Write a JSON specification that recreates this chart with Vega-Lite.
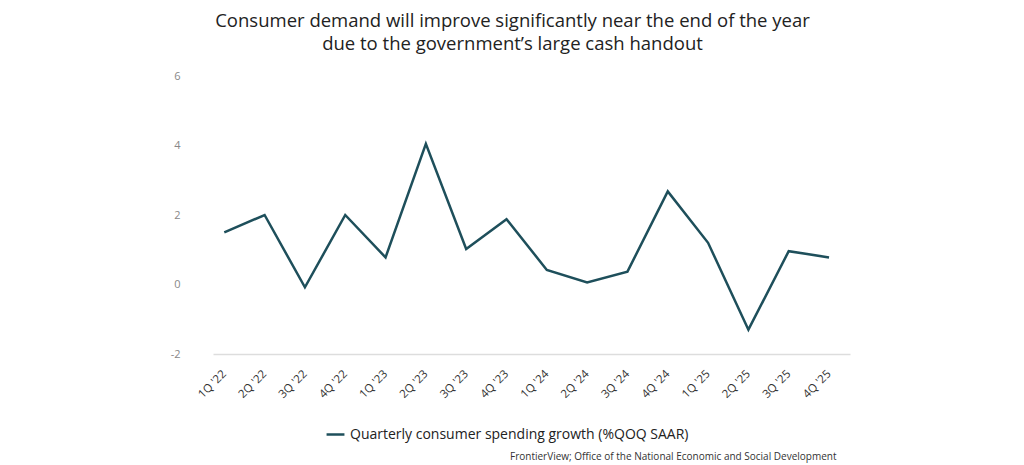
{
  "$schema": "https://vega.github.io/schema/vega-lite/v6.json",
  "autosize": {"type": "none"},
  "width": 637,
  "height": 278,
  "padding": {"left": 213, "top": 76, "right": 174, "bottom": 111},
  "background": "white",
  "config": {"view": {"stroke": null}, "font": "Open Sans"},
  "title": {
    "text": ["Consumer demand will improve significantly near the end of the year", "due to the government’s large cash handout"],
    "fontSize": 18.5,
    "fontWeight": "normal",
    "color": "#222",
    "anchor": "middle",
    "dx": -19,
    "offset": 17,
    "lineHeight": 23
  },
  "data": {
    "values": [
      {"q": "1Q '22", "series": "Quarterly consumer spending growth (%QOQ SAAR)", "v": 1.50},
      {"q": "2Q '22", "series": "Quarterly consumer spending growth (%QOQ SAAR)", "v": 2.00},
      {"q": "3Q '22", "series": "Quarterly consumer spending growth (%QOQ SAAR)", "v": -0.08},
      {"q": "4Q '22", "series": "Quarterly consumer spending growth (%QOQ SAAR)", "v": 2.00},
      {"q": "1Q '23", "series": "Quarterly consumer spending growth (%QOQ SAAR)", "v": 0.78},
      {"q": "2Q '23", "series": "Quarterly consumer spending growth (%QOQ SAAR)", "v": 4.05},
      {"q": "3Q '23", "series": "Quarterly consumer spending growth (%QOQ SAAR)", "v": 1.02},
      {"q": "4Q '23", "series": "Quarterly consumer spending growth (%QOQ SAAR)", "v": 1.88},
      {"q": "1Q '24", "series": "Quarterly consumer spending growth (%QOQ SAAR)", "v": 0.42},
      {"q": "2Q '24", "series": "Quarterly consumer spending growth (%QOQ SAAR)", "v": 0.06},
      {"q": "3Q '24", "series": "Quarterly consumer spending growth (%QOQ SAAR)", "v": 0.37},
      {"q": "4Q '24", "series": "Quarterly consumer spending growth (%QOQ SAAR)", "v": 2.68},
      {"q": "1Q '25", "series": "Quarterly consumer spending growth (%QOQ SAAR)", "v": 1.20},
      {"q": "2Q '25", "series": "Quarterly consumer spending growth (%QOQ SAAR)", "v": -1.30},
      {"q": "3Q '25", "series": "Quarterly consumer spending growth (%QOQ SAAR)", "v": 0.96},
      {"q": "4Q '25", "series": "Quarterly consumer spending growth (%QOQ SAAR)", "v": 0.78}
    ]
  },
  "mark": {"type": "line", "strokeWidth": 2.5, "color": "#1e4f5b"},
  "encoding": {
    "x": {
      "field": "q",
      "type": "ordinal",
      "sort": null,
      "scale": {"type": "point", "paddingInner": 0, "padding": 0.4, "align": 0.35},
      "axis": {
        "title": "FrontierView; Office of the National Economic and Social Development",
        "titleFontSize": 10,
        "titleFontWeight": "normal",
        "titleColor": "#333",
        "titleAnchor": "end",
        "titleAlign": "right",
        "titleBaseline": "alphabetic",
        "titleX": 623,
        "titleY": 105,
        "labelAngle": -45,
        "labelAlign": "right",
        "labelBaseline": "middle",
        "labelFontSize": 11.5,
        "labelColor": "#333",
        "labelPadding": 18,
        "ticks": false,
        "domainColor": "#dddddd",
        "domainWidth": 1.5,
        "grid": false
      }
    },
    "y": {
      "field": "v",
      "type": "quantitative",
      "scale": {"domain": [-2, 6], "nice": false, "zero": false},
      "axis": {
        "title": null,
        "values": [-2, 0, 2, 4, 6],
        "labelExpr": "'' + datum.value",
        "grid": false,
        "domain": false,
        "ticks": false,
        "labelColor": "#888888",
        "labelFontSize": 11,
        "labelPadding": 33
      }
    },
    "stroke": {
      "field": "series",
      "type": "nominal",
      "scale": {"range": ["#1e4f5b"]},
      "legend": {
        "title": null,
        "orient": "none",
        "legendX": 112,
        "legendY": 348,
        "symbolType": "stroke",
        "symbolSize": 320,
        "symbolStrokeWidth": 2.5,
        "labelFontSize": 14,
        "labelColor": "#222",
        "labelLimit": 500
      }
    }
  }
}
